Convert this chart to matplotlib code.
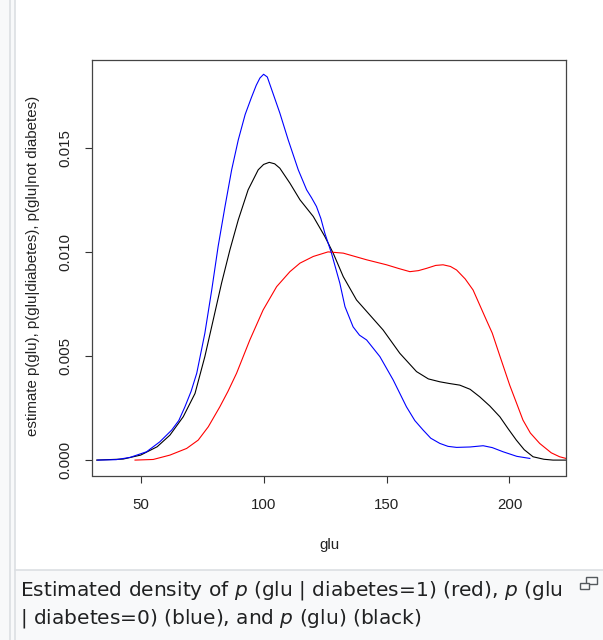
import matplotlib
matplotlib.use("Agg")
import matplotlib.pyplot as plt
from matplotlib.patches import Rectangle
from matplotlib.lines import Line2D

# density estimates (glu vs. density)
glu_no = [32.4, 40, 45.7, 52.4, 57.8, 62.6, 65.5, 68, 70.5, 72.8, 76.1, 78.9,
          81.5, 84.3, 87, 89.7, 92.5, 95, 97, 98.5, 100, 101.5, 103.3, 106.6,
          110, 114.1, 117.5, 119.5, 121.5, 123.3, 124.9, 127.6, 131, 133.1,
          136.4, 139, 141.9, 147.3, 152.7, 158.1, 161.5, 164.9, 168, 171.7,
          175, 178.5, 184, 189.3, 193, 197.4, 203, 208.3]
dens_no = [0, 0.00002, 0.00013, 0.0004, 0.00088, 0.00144, 0.0019, 0.00256,
           0.0033, 0.00417, 0.00609, 0.00817, 0.01026, 0.01218, 0.01394,
           0.01538, 0.0166, 0.0174, 0.0180, 0.01835, 0.01853, 0.0184, 0.01779,
           0.01667, 0.01538, 0.01394, 0.01298, 0.0126, 0.01218, 0.0116, 0.0109,
           0.00994, 0.0085, 0.00737, 0.0064, 0.006, 0.00577, 0.00497, 0.00385,
           0.00256, 0.0019, 0.00144, 0.00105, 0.0008, 0.00066, 0.00061,
           0.00063, 0.00069, 0.0006, 0.0004, 0.00018, 0.00008]

glu_all = [32.1, 42.9, 50, 56.7, 61.9, 67.3, 72.1, 76.1, 79.5, 82.9, 86.3,
           89.7, 93.7, 97.8, 100, 102.3, 104.5, 106.6, 110.7, 114.8, 120.2,
           124.9, 128.3, 132.4, 137.8, 143.2, 148.6, 155.4, 162.2, 167, 171.7,
           175.5, 179.8, 184, 187.9, 192, 196.1, 199.5, 202.8, 206, 209.6, 214,
           217.7, 223]
dens_all = [0, 0.00005, 0.00024, 0.00064, 0.0012, 0.00208, 0.0032, 0.00497,
            0.00673, 0.0085, 0.0101, 0.01154, 0.01298, 0.01394, 0.0142, 0.0143,
            0.01423, 0.01402, 0.0133, 0.0125, 0.0117, 0.01074, 0.00994,
            0.00881, 0.00769, 0.00697, 0.00625, 0.00513, 0.00425, 0.0039,
            0.00376, 0.00368, 0.0036, 0.0034, 0.00304, 0.0026, 0.00208, 0.0015,
            0.00096, 0.0005, 0.00016, 0.00004, 0.0, 0.0]

glu_yes = [47.7, 55.1, 61.9, 68.7, 73.4, 77.5, 82.2, 85.5, 89, 94.4, 99.8,
           105.3, 110.7, 114.8, 120.2, 126.2, 132.4, 141.9, 150, 155, 159.5,
           163, 166.3, 170, 173, 176, 178.5, 182, 185.2, 190.6, 193, 196.1,
           200.1, 203, 205.5, 208.5, 212.3, 217, 220.4, 223]
dens_yes = [0, 0.00003, 0.00024, 0.00056, 0.00096, 0.0016, 0.00256, 0.0033,
            0.00417, 0.00577, 0.00721, 0.00833, 0.00905, 0.00946, 0.00978,
            0.01, 0.00994, 0.00962, 0.00938, 0.0092, 0.00905, 0.0091, 0.00921,
            0.00935, 0.00938, 0.0093, 0.00913, 0.0087, 0.00817, 0.00673,
            0.0061, 0.0050, 0.0036, 0.0027, 0.00192, 0.0013, 0.0008, 0.00035,
            0.00016, 0.00008]

x_ticks = [50, 100, 150, 200]
y_ticks = [0.0, 0.005, 0.010, 0.015]
y_tick_labels = ["0.000", "0.005", "0.010", "0.015"]

W, H = 603, 640
fig = plt.figure(figsize=(W / 100, H / 100), dpi=100, facecolor="#f8f9fa")

# wiki thumbnail frame
border = "#dcdfe3"
fig.patches.append(Rectangle((15 / W, 1 - 570 / H), 1, 570 / H, transform=fig.transFigure,
                             facecolor="white", edgecolor="none", zorder=-5))
fig.lines.append(Line2D([15 / W, 1], [1 - 570 / H] * 2, transform=fig.transFigure,
                        color=border, lw=1.2, zorder=-4))
for px in (9.5, 15):
    fig.lines.append(Line2D([px / W] * 2, [0, 1], transform=fig.transFigure,
                            color=border, lw=1.2, zorder=-4))

ax = fig.add_axes([92 / W, 1 - 475.5 / H, 474 / W, 416 / H])
ax.set_zorder(2)
ax.set_facecolor("white")

ax.plot(glu_all, dens_all, color="black", lw=0.8)
ax.plot(glu_yes, dens_yes, color="#ff0000", lw=0.8)
ax.plot(glu_no, dens_no, color="#0000ff", lw=0.8)

ax.set_xlim(30.2, 223.0)
ax.set_ylim(-0.00074, 0.01924)

r_font = "Liberation Sans"
fs = 10.8
ax.set_xticks(x_ticks)
ax.set_xticklabels([str(v) for v in x_ticks], fontsize=fs, family=r_font, color="#222222")
ax.set_yticks(y_ticks)
ax.set_yticklabels(y_tick_labels, fontsize=fs, family=r_font, color="#222222",
                   rotation=90, va="center")
ax.tick_params(axis="x", length=5, width=0.8, color="#333333", pad=11)
ax.tick_params(axis="y", length=5, width=0.8, color="#333333", pad=9)
for sp in ax.spines.values():
    sp.set_color("#444444")
    sp.set_linewidth(0.9)

fig.text(329 / W, 1 - 545 / H, "glu", ha="center", va="center",
         fontsize=fs, family=r_font, color="#222222")
fig.text(33 / W, 1 - 266 / H,
         "estimate p(glu), p(glu|diabetes), p(glu|not diabetes)",
         ha="center", va="center", rotation=90, fontsize=fs, family=r_font,
         color="#222222")

# caption
plt.rcParams["mathtext.fontset"] = "dejavusans"
cap = dict(fontsize=14.5, family="DejaVu Sans", color="#202122", va="center", ha="left")
fig.text(20 / W, 1 - 590 / H,
         r"Estimated density of $p$ (glu | diabetes=1) (red), $p$ (glu", **cap)
fig.text(20 / W, 1 - 618 / H,
         r"| diabetes=0) (blue), and $p$ (glu) (black)", **cap)

# enlarge icon
icon = "#54595d"
fig.patches.append(Rectangle((586 / W, 1 - 584 / H), 11 / W, 7 / H, transform=fig.transFigure,
                             facecolor="none", edgecolor=icon, lw=1.0))
fig.patches.append(Rectangle((580 / W, 1 - 589 / H), 9 / W, 6 / H, transform=fig.transFigure,
                             facecolor="#f8f9fa", edgecolor=icon, lw=1.0))

fig.savefig("out.png", dpi=100, facecolor=fig.get_facecolor())
